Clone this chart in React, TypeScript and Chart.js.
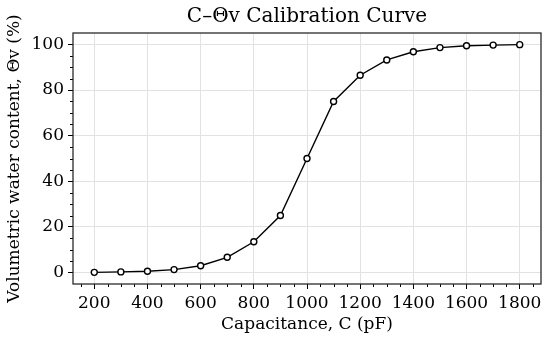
import React, { useEffect, useRef } from "react";
import { Chart, registerables } from "chart.js";

Chart.register(...registerables);

const chartTitle = "C–Θv Calibration Curve";
const capacitance = [200, 300, 400, 500, 600, 700, 800, 900, 1000, 1100, 1200, 1300, 1400, 1500, 1600, 1700, 1800];
const thetaV = [0.1, 0.3, 0.6, 1.3, 3.0, 6.7, 13.5, 25.0, 50.0, 75.0, 86.5, 93.2, 96.8, 98.6, 99.4, 99.7, 99.9];
const xTicks = [200, 400, 600, 800, 1000, 1200, 1400, 1600, 1800];
const yTicks = [0, 20, 40, 60, 80, 100];
const xMinor = [150, 250, 300, 350, 450, 500, 550, 650, 700, 750, 850, 900, 950, 1050, 1100, 1150, 1250, 1300, 1350, 1450, 1500, 1550, 1650, 1700, 1750, 1850];
const yMinor = [5, 10, 15, 25, 30, 35, 45, 50, 55, 65, 70, 75, 85, 90, 95];

const FONT = "'DejaVu Serif', serif";

export default function App() {
  const ref = useRef<HTMLCanvasElement | null>(null);
  useEffect(() => {
    document.body.style.margin = "0";
    const frame = {
      id: "frame",
      afterDraw(chart: any) {
        const { ctx, chartArea: a } = chart;
        const xs = chart.scales.x;
        const ys = chart.scales.y;
        ctx.save();
        ctx.strokeStyle = "#000";
        ctx.lineWidth = 1;
        ctx.beginPath();
        for (const v of xMinor) {
          const px = Math.round(xs.getPixelForValue(v)) + 0.5;
          ctx.moveTo(px, a.bottom);
          ctx.lineTo(px, a.bottom + 3);
        }
        for (const v of yMinor) {
          const py = Math.round(ys.getPixelForValue(v)) + 0.5;
          ctx.moveTo(a.left, py);
          ctx.lineTo(a.left - 3, py);
        }
        ctx.stroke();
        ctx.lineWidth = 1.25;
        ctx.strokeStyle = "#222";
        ctx.strokeRect(a.left, a.top, a.right - a.left, a.bottom - a.top);
        ctx.fillStyle = "#000";
        ctx.font = `20px ${FONT}`;
        ctx.textAlign = "center";
        ctx.textBaseline = "middle";
        ctx.fillText(chartTitle, (a.left + a.right) / 2, 16.5);
        ctx.restore();
      },
    };
    const chart = new Chart(ref.current!, {
      type: "line",
      data: {
        datasets: [
          {
            data: capacitance.map((c, i) => ({ x: c, y: thetaV[i] })),
            borderColor: "#000",
            borderWidth: 1.4,
            pointRadius: 3,
            pointBorderWidth: 1.4,
            pointBackgroundColor: "#fff",
            pointBorderColor: "#000",
            tension: 0,
          },
        ],
      },
      options: {
        animation: false,
        responsive: false,
        layout: { padding: { left: 0, right: 9, top: 33, bottom: 0 } },
        plugins: {
          legend: { display: false },
          tooltip: { enabled: false },
          title: { display: false },
        },
        scales: {
          x: {
            type: "linear",
            min: 120,
            max: 1880,
            afterBuildTicks: (s: any) => {
              s.ticks = xTicks.map((v) => ({ value: v }));
            },
            afterFit: (s: any) => {
              s.height = 58;
            },
            grid: { color: "#e2e2e2", lineWidth: 1, tickColor: "#000", tickLength: 5 },
            border: { display: false },
            ticks: {
              color: "#000",
              font: { family: FONT, size: 17 },
              padding: 4,
              maxRotation: 0,
              callback: (v: any) => String(v),
            },
            title: {
              display: true,
              text: "Capacitance, C (pF)",
              color: "#000",
              font: { family: FONT, size: 17 },
              padding: { top: 0, bottom: 7 },
            },
          },
          y: {
            type: "linear",
            min: -5,
            max: 105,
            afterBuildTicks: (s: any) => {
              s.ticks = yTicks.map((v) => ({ value: v }));
            },
            afterFit: (s: any) => {
              s.width = 73;
            },
            grid: { color: "#e2e2e2", lineWidth: 1, tickColor: "#000", tickLength: 5 },
            border: { display: false },
            ticks: {
              color: "#000",
              font: { family: FONT, size: 17 },
              padding: 4,
              callback: (v: any) => String(v),
            },
            title: {
              display: true,
              text: "Volumetric water content, Θv (%)",
              color: "#000",
              font: { family: FONT, size: 17 },
              padding: { top: 4.5, bottom: 0 },
            },
          },
        },
      },
      plugins: [frame],
    });
    return () => chart.destroy();
  }, []);
  return (
    <div style={{ position: "absolute", left: 0, top: 0, width: 550, height: 342 }}>
      <canvas ref={ref} width={550} height={342} style={{ width: 550, height: 342 }} />
    </div>
  );
}
